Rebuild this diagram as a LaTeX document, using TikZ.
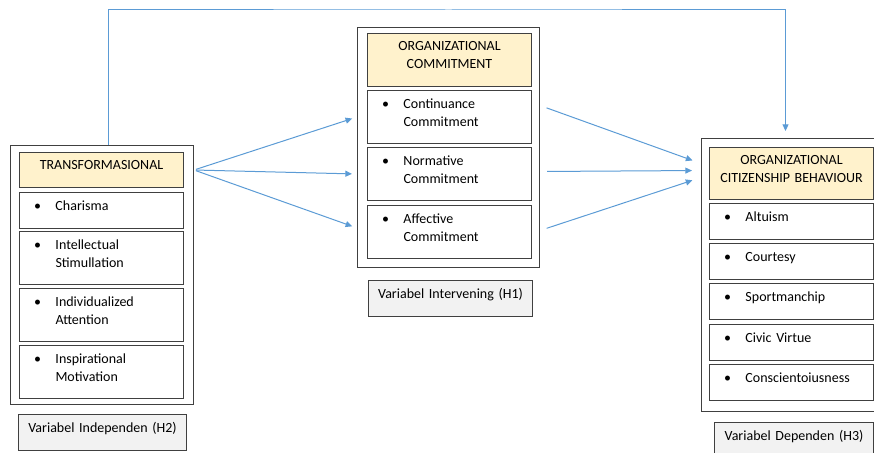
\documentclass[tikz,border=0pt]{standalone}
\usepackage{fontspec}
\setmainfont{Carlito}
\usetikzlibrary{arrows.meta,calc}
\definecolor{linkblue}{HTML}{5B9BD5}
\definecolor{headgold}{HTML}{FFF2CC}
\definecolor{labelgray}{HTML}{F2F2F2}
\definecolor{boxline}{HTML}{404040}
\newcommand{\bul}[1]{\makebox[16pt][l]{\textbullet}#1}
\newcommand{\bull}[2]{\makebox[16pt][l]{\textbullet}#1\\\hspace*{16pt}#2}

\begin{document}
\begin{tikzpicture}[
    x=0.75pt, y=-0.75pt,
    font=\fontsize{10.5}{13.5}\selectfont,
    every node/.style={draw=boxline, line width=0.75pt, anchor=north west, inner sep=0pt},
    outerbox/.style={fill=white},
    headbox/.style={fill=headgold, text width=123pt, align=center, text height=12.5pt},
    itembox/.style={fill=white, text width=101pt, inner xsep=11pt, align=left, text height=13.5pt},
    oneline/.style={text depth=13.5pt},
    twoline/.style={text depth=26.25pt},
    varbox/.style={fill=labelgray, align=center, text height=13.5pt, text depth=13.5pt},
    link/.style={draw=linkblue, line width=0.75pt, -{Triangle[length=5pt, width=4.5pt]}}
]
\useasboundingbox (0,0) rectangle (874,453);
\node[outerbox, minimum width=137.25pt, minimum height=194.25pt] (lout) at (10,145) {};
\node[headbox, text depth=13.75pt] (lhead) at (19,152) {TRANSFORMASIONAL};
\node[itembox, oneline] (l1) at (19,192) {\bul{Charisma}};
\node[itembox, twoline] (l2) at (19,231) {\bull{Intellectual}{Stimullation}};
\node[itembox, twoline] (l3) at (19,288) {\bull{Individualized}{Attention}};
\node[itembox, twoline] (l4) at (19,345) {\bull{Inspirational}{Motivation}};
\node[varbox, text width=126pt] (llab) at (18,414) {Variabel Independen (H2)};

\node[outerbox, minimum width=136.5pt, minimum height=180pt] (mout) at (357,27) {};
\node[headbox, text depth=27pt] (mhead) at (367,33) {ORGANIZATIONAL\\COMMITMENT};
\node[itembox, twoline] (m1) at (367,90) {\bull{Continuance}{Commitment}};
\node[itembox, twoline] (m2) at (367,147) {\bull{Normative}{Commitment}};
\node[itembox, twoline] (m3) at (367,205) {\bull{Affective}{Commitment}};
\node[varbox, text width=123pt] (mlab) at (368,280) {Variabel Intervening (H1)};

\node[outerbox, minimum width=135.75pt, minimum height=204.75pt] (rout) at (701,138) {};
\node[headbox, text depth=26.5pt] (rhead) at (709,147) {ORGANIZATIONAL\\CITIZENSHIP BEHAVIOUR};
\node[itembox, oneline] (r1) at (709,203) {\bul{Altuism}};
\node[itembox, oneline] (r2) at (709,243) {\bul{Courtesy}};
\node[itembox, oneline] (r3) at (709,283) {\bul{Sportmanchip}};
\node[itembox, oneline] (r4) at (709,324) {\bul{Civic Virtue}};
\node[itembox, oneline] (r5) at (709,364) {\bul{Conscientoiusness}};
\node[varbox, text width=119.25pt] (rlab) at (714,422) {Variabel Dependen (H3)};

\draw[link, shorten <=1.5pt, shorten >=3.75pt] (lout.east |- lhead.east) -- (mout.west |- m1.west);
\draw[link, shorten <=1.5pt, shorten >=3.75pt] (lout.east |- lhead.east) -- (mout.west |- m2.west);
\draw[link, shorten <=1.5pt, shorten >=3.75pt] (lout.east |- lhead.east) -- ($(mout.west |- m3.west)+(0,-4)$);

\draw[link, shorten <=5.25pt, shorten >=6.75pt] ($(mout.east |- m1.west)+(0,-11.5)$) -- ($(rout.west |- rhead.west)+(0,-10)$);
\draw[link, shorten <=5.25pt, shorten >=6.75pt] ($(mout.east |- m2.west)+(0,-2.5)$) -- ($(rout.west |- rhead.west)+(0,-3)$);
\draw[link, shorten <=5.25pt, shorten >=6.75pt] ($(mout.east |- m3.west)+(0,-1.5)$) -- ($(rout.west |- rhead.west)+(0,4)$);

\draw[link, shorten >=5.25pt] ($(lout.north)+(6.5,0)$) |- ($(mout.north)+(0,-17)$) -| ($(rout.north)+(-6.5,0)$);
\end{tikzpicture}
\end{document}
